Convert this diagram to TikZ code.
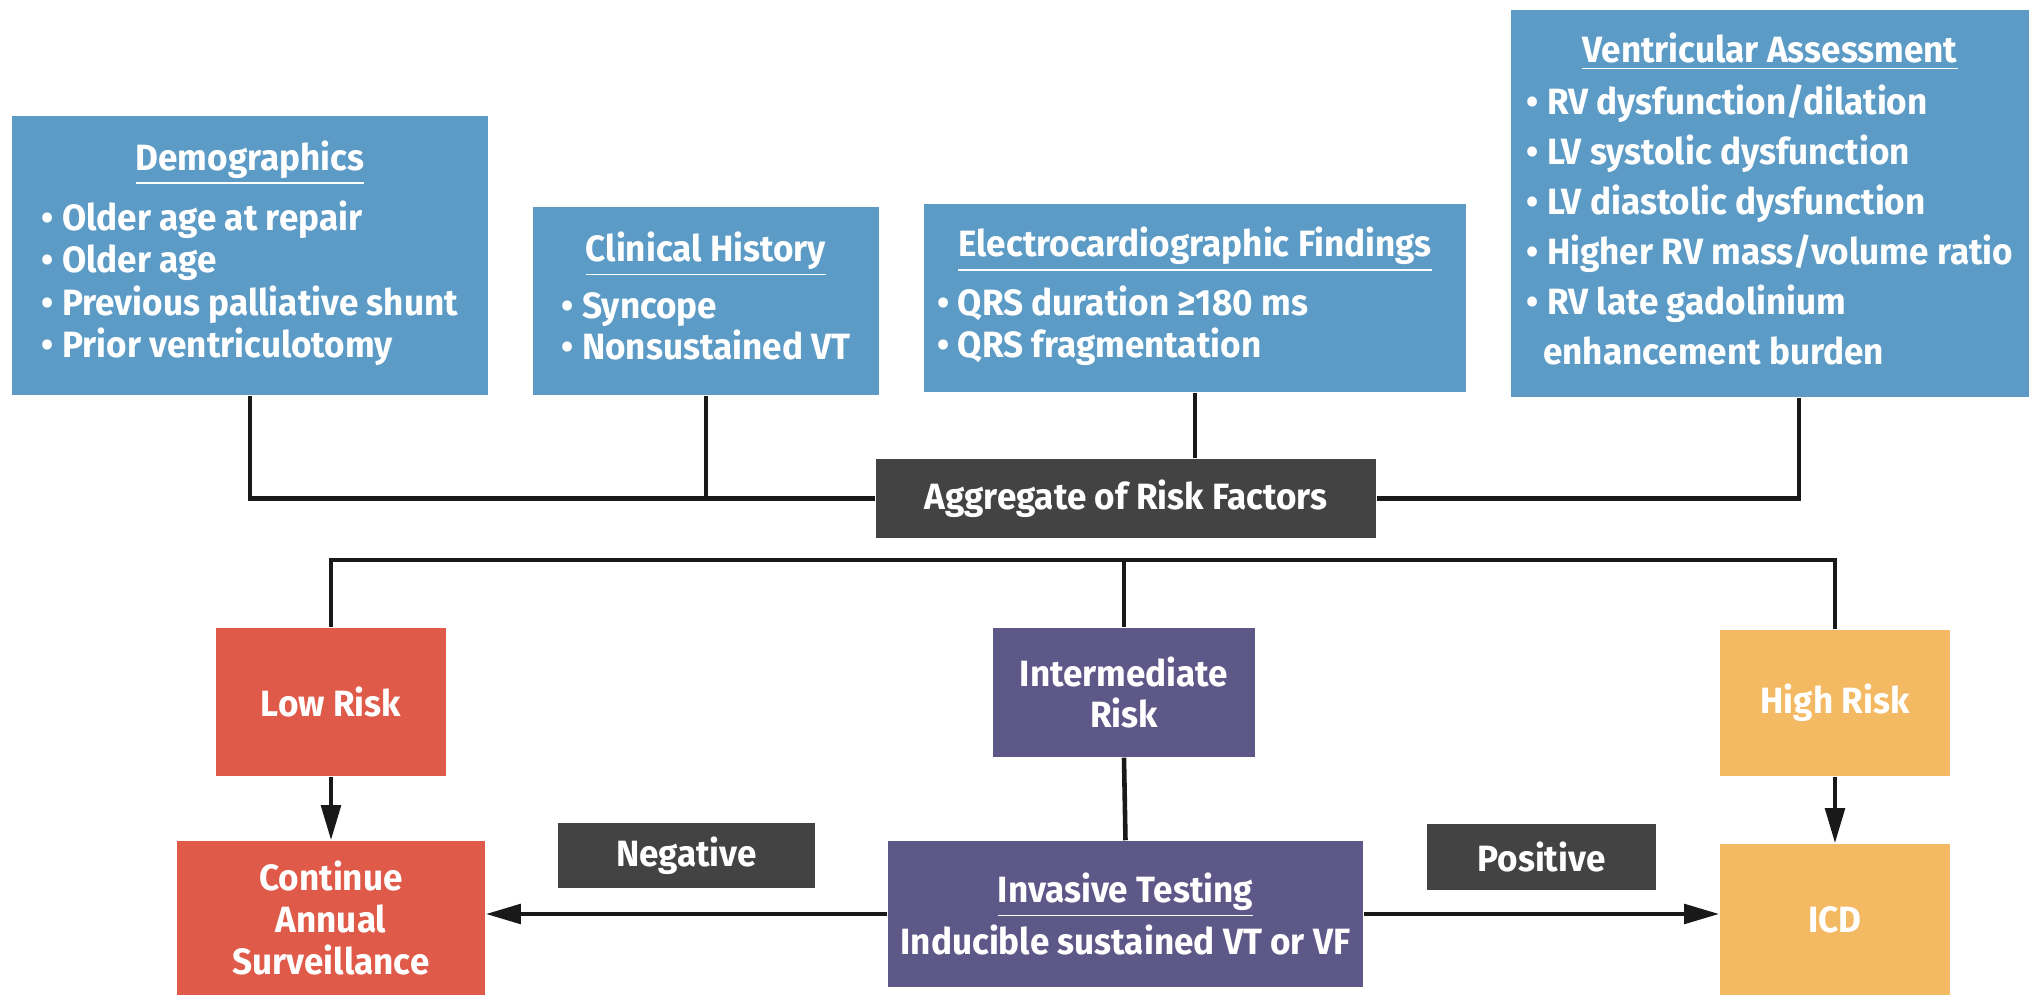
\documentclass[tikz,border=0pt]{standalone}
\usepackage{fontspec}
\setmainfont{Fira Sans}[FakeStretch=0.96]
\usetikzlibrary{arrows.meta}

\definecolor{factorblue}{RGB}{91,155,198}
\definecolor{labelgray}{RGB}{67,67,67}
\definecolor{lowred}{RGB}{224,90,74}
\definecolor{midpurple}{RGB}{94,88,137}
\definecolor{highorange}{RGB}{244,185,99}

\tikzset{
    box/.style={fill=#1, text=white, inner sep=0pt, align=center,
        font=\bfseries\fontsize{10.4}{12.1}\selectfont},
    link/.style={draw=black!90, line width=1.3pt},
    arrowlink/.style={link, -{Triangle[length=10pt,width=5.5pt]}},
}

\begin{document}
\begin{tikzpicture}[x=0.01cm, y=-0.01cm]
    \useasboundingbox (0,0) rectangle (2029,995);

    % risk factor groups
    \node (demo) at (250,255.5) [box=factorblue, minimum width=4.76cm, minimum height=2.79cm]
        {\begin{tabular}{@{}l@{}}
            \multicolumn{1}{c}{\underline{Demographics}}\\[5pt]
            •~Older age at repair\\
            •~Older age\\
            •~Previous palliative shunt\\
            •~Prior ventriculotomy
        \end{tabular}};
    \node (clin) at (706,301) [box=factorblue, minimum width=3.46cm, minimum height=1.88cm,
        font=\bfseries\fontsize{10.4}{10.7}\selectfont]
        {\begin{tabular}{@{}l@{}}
            \multicolumn{1}{c}{\underline{Clinical History}}\\[5.5pt]
            •~Syncope\\
            •~Nonsustained VT
        \end{tabular}};
    \node (ecg) at (1195,298) [box=factorblue, minimum width=5.42cm, minimum height=1.88cm,
        font=\bfseries\fontsize{10.4}{11}\selectfont]
        {\begin{tabular}{@{}l@{}}
            \multicolumn{1}{c}{\underline{Electrocardiographic Findings}}\\[5pt]
            •~QRS duration ≥180 ms\\
            •~QRS fragmentation
        \end{tabular}};
    \node (vent) at (1770,203.5) [box=factorblue, minimum width=5.18cm, minimum height=3.87cm,
        font=\bfseries\fontsize{10.4}{14.2}\selectfont]
        {\begin{tabular}{@{}l@{}}
            \multicolumn{1}{c}{\underline{Ventricular Assessment}}\\[0.5pt]
            •~RV dysfunction/dilation\\
            •~LV systolic dysfunction\\
            •~LV diastolic dysfunction\\
            •~Higher RV mass/volume ratio\\
            •~RV late gadolinium\\
            \ \ enhancement burden
        \end{tabular}};

    \node (agg) at (1126,498.5) [box=labelgray, minimum width=5cm, minimum height=0.79cm]
        {Aggregate of Risk Factors};

    % risk levels
    \node (low) at (331,702) [box=lowred, minimum width=2.3cm, minimum height=1.48cm]
        {Low Risk};
    \node (inter) at (1124,692.5) [box=midpurple, minimum width=2.62cm, minimum height=1.29cm,
        font=\bfseries\fontsize{10.4}{11.4}\selectfont]
        {Intermediate\\Risk};
    \node (high) at (1835,703) [box=highorange, minimum width=2.3cm, minimum height=1.46cm]
        {High Risk};

    % management
    \node (cont) at (331,918) [box=lowred, minimum width=3.08cm, minimum height=1.54cm,
        font=\bfseries\fontsize{10.4}{12}\selectfont]
        {Continue\\Annual\\Surveillance};
    \node (inv) at (1125.5,914) [box=midpurple, minimum width=4.75cm, minimum height=1.46cm,
        font=\bfseries\fontsize{10.4}{14.7}\selectfont]
        {\underline{Invasive Testing}\\Inducible sustained VT or VF};
    \node (icd) at (1835,919.5) [box=highorange, minimum width=2.3cm, minimum height=1.51cm]
        {ICD};
    \node (neg) at (686.5,855.5) [box=labelgray, minimum width=2.57cm, minimum height=0.65cm]
        {Negative};
    \node (pos) at (1541.5,857) [box=labelgray, minimum width=2.29cm, minimum height=0.66cm]
        {Positive};

    % connectors
    \coordinate (split) at (1126,560);
    \draw[link] (demo.south) |- (agg.west);
    \draw[link] (clin.south) -- (clin.south |- agg.west);
    \draw[link] (ecg.south) -- (ecg.south |- agg.north);
    \draw[link] ([xshift=0.29cm]vent.south) |- (agg.east);
    \draw[link] (low.north) |- (split) -| (high.north);
    \draw[link] (inter.north) -- (inter.north |- split);
    \draw[link] (inter.south) -- (inv.north);
    \draw[arrowlink] (low.south) -- (cont.north);
    \draw[arrowlink] (high.south) -- (icd.north);
    \draw[arrowlink] (inv.west) -- (inv.west -| cont.east);
    \draw[arrowlink] (inv.east) -- (inv.east -| icd.west);
\end{tikzpicture}
\end{document}
